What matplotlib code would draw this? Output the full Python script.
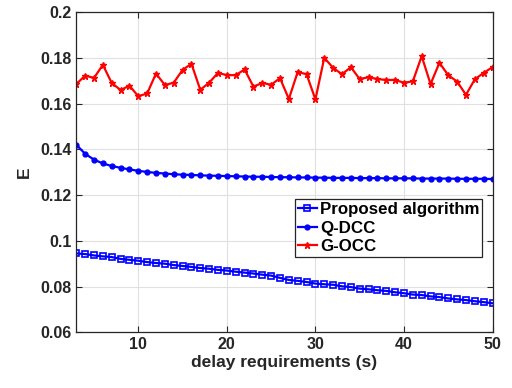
import matplotlib
matplotlib.use("Agg")
import matplotlib.pyplot as plt

x = list(range(3, 51))

proposed = [0.0945, 0.0942, 0.0936, 0.0932, 0.0929, 0.0921, 0.0917, 0.0913, 0.0907, 0.0903,
            0.0900, 0.0894, 0.0890, 0.0886, 0.0881, 0.0878, 0.0873, 0.0870, 0.0865, 0.0861,
            0.0857, 0.0852, 0.0848, 0.0838, 0.0829, 0.0825, 0.0820, 0.0813, 0.0810, 0.0808,
            0.0801, 0.0798, 0.0791, 0.0788, 0.0784, 0.0781, 0.0775, 0.0771, 0.0765, 0.0763,
            0.0757, 0.0754, 0.0748, 0.0744, 0.0741, 0.0736, 0.0732, 0.0727]

qdcc = [0.1420, 0.1380, 0.1355, 0.1338, 0.1327, 0.1319, 0.1312, 0.1306, 0.1301, 0.1297,
        0.1294, 0.1291, 0.1289, 0.1288, 0.1286, 0.1285, 0.1284, 0.1283, 0.1282, 0.1281,
        0.1280, 0.1280, 0.1279, 0.1278, 0.1278, 0.1277, 0.1277, 0.1276, 0.1276, 0.1275,
        0.1275, 0.1275, 0.1274, 0.1274, 0.1274, 0.1273, 0.1273, 0.1273, 0.1273, 0.1272,
        0.1272, 0.1272, 0.1272, 0.1271, 0.1271, 0.1271, 0.1271, 0.1270]

gocc = [0.1685, 0.1722, 0.1712, 0.1769, 0.1690, 0.1659, 0.1678, 0.1632, 0.1644, 0.1731,
        0.1681, 0.1691, 0.1747, 0.1774, 0.1660, 0.1691, 0.1734, 0.1724, 0.1724, 0.1749,
        0.1674, 0.1690, 0.1682, 0.1711, 0.1620, 0.1738, 0.1728, 0.1618, 0.1800, 0.1756,
        0.1728, 0.1759, 0.1707, 0.1715, 0.1707, 0.1703, 0.1703, 0.1691, 0.1697, 0.1807,
        0.1685, 0.1778, 0.1724, 0.1696, 0.1638, 0.1706, 0.1734, 0.1759]

labels = ["Proposed algorithm", "Q-DCC", "G-OCC"]
xticks = [10, 20, 30, 40, 50]
yticks = [0.06, 0.08, 0.1, 0.12, 0.14, 0.16, 0.18, 0.2]
yticklabels = ["0.06", "0.08", "0.1", "0.12", "0.14", "0.16", "0.18", "0.2"]

plt.rcParams['font.family'] = ['Liberation Sans', 'DejaVu Sans']
plt.rcParams['font.weight'] = 'bold'

fig = plt.figure(figsize=(5.12, 3.88), dpi=100)
ax = fig.add_axes([0.149, 0.1435, 0.813, 0.8255])

dark = '#262626'
ax.plot(x, proposed, color='#0000ff', lw=1.6, marker='s', ms=4, mfc='none', mew=1.2, label=labels[0])
ax.plot(x, qdcc, color='#0000ff', lw=1.6, marker='o', ms=3.5, label=labels[1])
ax.plot(x, gocc, color='#ff0000', lw=1.6, marker='*', ms=5, label=labels[2])

ax.set_xlim(3, 50)
ax.set_ylim(0.06, 0.2)
ax.set_xticks(xticks)
ax.set_yticks(yticks)
ax.set_yticklabels(yticklabels)
ax.grid(True, color='#e0e0e0', lw=0.8)
ax.set_axisbelow(True)
ax.tick_params(direction='in', top=True, right=True, labelsize=11.5, colors=dark, length=4)
for s in ax.spines.values():
    s.set_color(dark)
    s.set_linewidth(0.9)
ax.set_xlabel("delay requirements (s)", fontsize=12.5, fontweight='bold', color=dark, labelpad=2)
ax.set_ylabel("E", fontsize=12.5, fontweight='bold', color=dark, labelpad=6)

leg = ax.legend(loc='upper left', bbox_to_anchor=(0.525, 0.416), fontsize=12.2, frameon=True,
                fancybox=False, edgecolor=dark, handlelength=1.1, handletextpad=0.2,
                borderpad=0.18, labelspacing=0.2, borderaxespad=0, framealpha=1)
leg.get_frame().set_linewidth(0.9)
for t in leg.get_texts():
    t.set_fontweight('bold')

fig.savefig("out.png", dpi=100)
